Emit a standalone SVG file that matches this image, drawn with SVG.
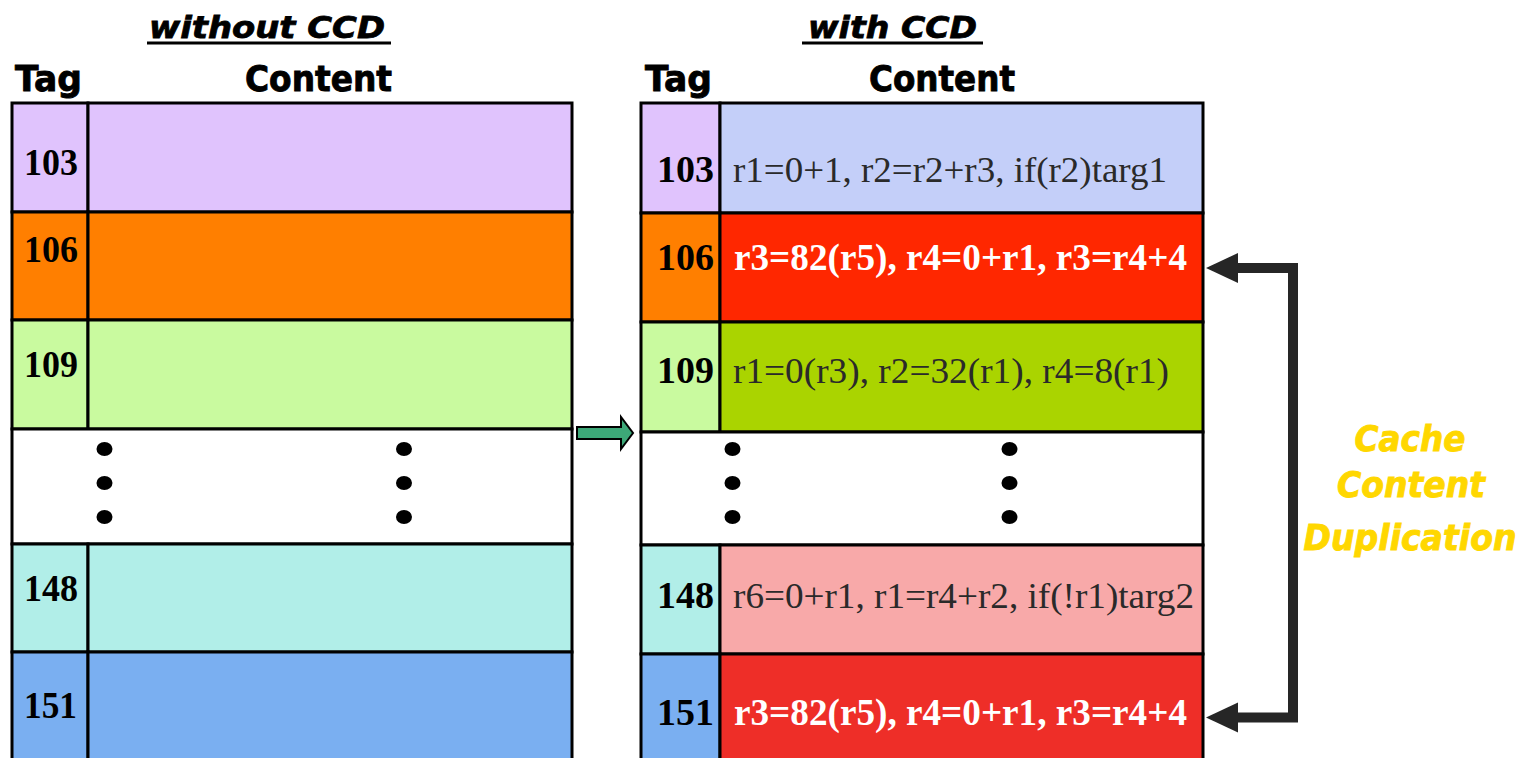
<svg xmlns="http://www.w3.org/2000/svg" width="1526" height="758" viewBox="0 0 1526 758">
<defs>
<style>
.head{font-family:"DejaVu Sans","Verdana",sans-serif;font-weight:bold;fill:#000;stroke:#000;stroke-width:0.9;}
.title{font-family:"DejaVu Sans","Verdana",sans-serif;font-weight:bold;font-style:italic;fill:#000;stroke:#000;stroke-width:0.8;font-size:31px;}
.tag{font-family:"Liberation Serif","Times New Roman",serif;font-weight:bold;font-size:38px;fill:#000;}
.ct{font-family:"Liberation Serif","Times New Roman",serif;font-size:35px;fill:#2a2a2a;}
.cb{font-family:"Liberation Serif","Times New Roman",serif;font-weight:bold;font-size:37px;fill:#fff;}
.cell{stroke:#000;stroke-width:3;}
.dot{fill:#000;}
.gold{font-family:"DejaVu Sans","Verdana",sans-serif;font-weight:bold;font-style:italic;font-size:35px;fill:#FFD700;stroke:#FFD700;stroke-width:0.9;text-anchor:middle;}
</style>
</defs>
<rect width="1526" height="758" fill="#fff"/>

<g id="left-header">
<text class="title" x="149" y="38" textLength="236" lengthAdjust="spacingAndGlyphs">without CCD</text>
<line x1="147" y1="43" x2="391" y2="43" stroke="#000" stroke-width="3"/>
<text class="head" x="15" y="91" font-size="36" textLength="67" lengthAdjust="spacingAndGlyphs">Tag</text>
<text class="head" x="245" y="91" font-size="36" textLength="147" lengthAdjust="spacingAndGlyphs">Content</text>
</g>

<g id="right-header">
<text class="title" x="808" y="38" textLength="169" lengthAdjust="spacingAndGlyphs">with CCD</text>
<line x1="802" y1="43" x2="983" y2="43" stroke="#000" stroke-width="3"/>
<text class="head" x="645" y="91" font-size="36" textLength="67" lengthAdjust="spacingAndGlyphs">Tag</text>
<text class="head" x="869" y="91" font-size="36" textLength="146" lengthAdjust="spacingAndGlyphs">Content</text>
</g>

<!-- Left table -->
<g id="L103">
<rect class="cell" x="12" y="103" width="76" height="109" fill="#E0C3FD"/>
<rect class="cell" x="88" y="103" width="484" height="109" fill="#E0C3FD"/>
<text class="tag" x="24" y="175" textLength="54" lengthAdjust="spacingAndGlyphs">103</text>
</g>
<g id="L106">
<rect class="cell" x="12" y="212" width="76" height="108" fill="#FF7F00"/>
<rect class="cell" x="88" y="212" width="484" height="108" fill="#FF7F00"/>
<text class="tag" x="24" y="262" textLength="54" lengthAdjust="spacingAndGlyphs">106</text>
</g>
<g id="L109">
<rect class="cell" x="12" y="320" width="76" height="109" fill="#C9FA9F"/>
<rect class="cell" x="88" y="320" width="484" height="109" fill="#C9FA9F"/>
<text class="tag" x="24" y="377" textLength="54" lengthAdjust="spacingAndGlyphs">109</text>
</g>
<g id="Ldots">
<rect class="cell" x="12" y="429" width="560" height="115" fill="#fff"/>
<ellipse class="dot" cx="104.5" cy="449" rx="8" ry="7"/>
<ellipse class="dot" cx="104.5" cy="483" rx="8" ry="7"/>
<ellipse class="dot" cx="104.5" cy="517" rx="8" ry="7"/>
<ellipse class="dot" cx="404" cy="449" rx="8" ry="7"/>
<ellipse class="dot" cx="404" cy="483" rx="8" ry="7"/>
<ellipse class="dot" cx="404" cy="517" rx="8" ry="7"/>
</g>
<g id="L148">
<rect class="cell" x="12" y="544" width="76" height="108" fill="#B1EEE8"/>
<rect class="cell" x="88" y="544" width="484" height="108" fill="#B1EEE8"/>
<text class="tag" x="24" y="601" textLength="54" lengthAdjust="spacingAndGlyphs">148</text>
</g>
<g id="L151">
<rect class="cell" x="12" y="652" width="76" height="120" fill="#7AAFF1"/>
<rect class="cell" x="88" y="652" width="484" height="120" fill="#7AAFF1"/>
<text class="tag" x="24" y="718" textLength="53" lengthAdjust="spacingAndGlyphs">151</text>
</g>

<!-- Right table -->
<g id="R103">
<rect class="cell" x="641" y="103" width="79" height="110" fill="#E0C3FD"/>
<rect class="cell" x="720" y="103" width="483" height="110" fill="#C4CFF9"/>
<text class="tag" x="714" y="182" text-anchor="end">103</text>
<text class="ct" x="733" y="182" textLength="434" lengthAdjust="spacingAndGlyphs">r1=0+1, r2=r2+r3, if(r2)targ1</text>
</g>
<g id="R106">
<rect class="cell" x="641" y="213" width="79" height="109" fill="#FF7F00"/>
<rect class="cell" x="720" y="213" width="483" height="109" fill="#FF2700"/>
<text class="tag" x="714" y="270" text-anchor="end">106</text>
<text class="cb" x="734" y="270" textLength="453" lengthAdjust="spacingAndGlyphs">r3=82(r5), r4=0+r1, r3=r4+4</text>
</g>
<g id="R109">
<rect class="cell" x="641" y="322" width="79" height="110" fill="#C9FA9F"/>
<rect class="cell" x="720" y="322" width="483" height="110" fill="#AAD400"/>
<text class="tag" x="714" y="383" text-anchor="end">109</text>
<text class="ct" x="733" y="383" textLength="436" lengthAdjust="spacingAndGlyphs">r1=0(r3), r2=32(r1), r4=8(r1)</text>
</g>
<g id="Rdots">
<rect class="cell" x="641" y="432" width="562" height="113" fill="#fff"/>
<ellipse class="dot" cx="732.5" cy="449" rx="8" ry="7"/>
<ellipse class="dot" cx="732.5" cy="483" rx="8" ry="7"/>
<ellipse class="dot" cx="732.5" cy="517" rx="8" ry="7"/>
<ellipse class="dot" cx="1009.5" cy="449" rx="8" ry="7"/>
<ellipse class="dot" cx="1009.5" cy="483" rx="8" ry="7"/>
<ellipse class="dot" cx="1009.5" cy="517" rx="8" ry="7"/>
</g>
<g id="R148">
<rect class="cell" x="641" y="545" width="79" height="109" fill="#B1EEE8"/>
<rect class="cell" x="720" y="545" width="483" height="109" fill="#F8A9A9"/>
<text class="tag" x="714" y="608" text-anchor="end">148</text>
<text class="ct" x="733" y="608" textLength="461" lengthAdjust="spacingAndGlyphs">r6=0+r1, r1=r4+r2, if(!r1)targ2</text>
</g>
<g id="R151">
<rect class="cell" x="641" y="654" width="79" height="120" fill="#7AAFF1"/>
<rect class="cell" x="720" y="654" width="483" height="120" fill="#EE2E28"/>
<text class="tag" x="714" y="725" text-anchor="end">151</text>
<text class="cb" x="734" y="725" textLength="453" lengthAdjust="spacingAndGlyphs">r3=82(r5), r4=0+r1, r3=r4+4</text>
</g>

<g id="connectors">
<path d="M577,427 L621,427 L621,417 L633,433 L621,449 L621,439 L577,439 Z" fill="#3DA878" stroke="#000" stroke-width="2" stroke-linejoin="miter"/>
<path d="M1237,268 L1293,268 L1293,717.5 L1237,717.5" fill="none" stroke="#262626" stroke-width="10" stroke-linejoin="miter"/>
<path d="M1206,268 L1238,253 L1238,283 Z" fill="#262626"/>
<path d="M1206,717.5 L1238,702.5 L1238,732.5 Z" fill="#262626"/>
</g>

<g id="label-ccd">
<text class="gold" x="1410" y="451" textLength="111" lengthAdjust="spacingAndGlyphs">Cache</text>
<text class="gold" x="1411" y="497" textLength="148" lengthAdjust="spacingAndGlyphs">Content</text>
<text class="gold" x="1410" y="550" textLength="213" lengthAdjust="spacingAndGlyphs">Duplication</text>
</g>
</svg>
